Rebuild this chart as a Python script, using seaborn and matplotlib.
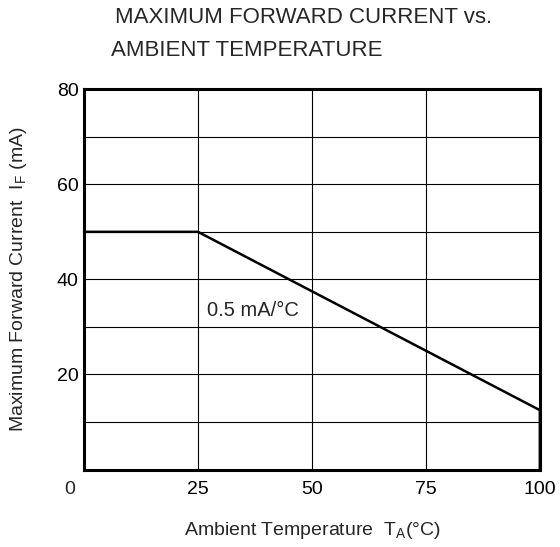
import pandas as pd
import seaborn as sns
import matplotlib.pyplot as plt

# derating curve: flat 50 mA up to 25 °C, then -0.5 mA/°C
temp_c = [0, 25, 100, 100]
current_ma = [50, 50, 12.5, 0]
x_ticks = [0, 25, 50, 75, 100]
y_ticks = [20, 40, 60, 80]
slope_note = "0.5 mA/°C"

sns.set_theme(style="white")
plt.rcParams['font.family'] = ['Liberation Sans', 'DejaVu Sans']
plt.rcParams['mathtext.default'] = 'regular'

df = pd.DataFrame({'temp': temp_c, 'current': current_ma})

fig = plt.figure(figsize=(5.6, 5.47), dpi=100)
ax = fig.add_axes([0.15, 0.1415, 0.814, 0.6955])

# grid every 25 °C and 10 mA
for gx in range(25, 100, 25):
    ax.axvline(gx, color='black', lw=0.8, zorder=1)
for gy in range(10, 80, 10):
    ax.axhline(gy, color='black', lw=0.8, zorder=1)

sns.lineplot(data=df, x='temp', y='current', sort=False, estimator=None,
             color='black', lw=1.8, ax=ax, zorder=3, clip_on=False)

ax.set_xlim(0, 100)
ax.set_ylim(0, 80)
ax.set_xticks(x_ticks)
ax.set_xticklabels([''] + [str(v) for v in x_ticks[1:]])
ax.set_yticks(y_ticks)
ax.set_yticklabels([str(v) for v in y_ticks])
ax.tick_params(axis='both', length=0, labelsize=14, colors='black', pad=8)
ax.tick_params(axis='y', pad=4)
ax.text(-2, -2.5, '0', ha='right', va='top', fontsize=14)

for s in ax.spines.values():
    s.set_color('black')
    s.set_linewidth(2.2)

ax.set_xlabel('Ambient Temperature  T$_{A}$(°C)', fontsize=14, labelpad=16)
ax.set_ylabel('Maximum Forward Current  I$_{F}$ (mA)', fontsize=14, labelpad=20)

ax.text(27, 33.5, slope_note, fontsize=14.5, va='center')

fig.text(0.205, 0.968, 'MAXIMUM FORWARD CURRENT vs.', fontsize=16, va='center')
fig.text(0.198, 0.908, 'AMBIENT TEMPERATURE', fontsize=16, va='center')

fig.savefig('out.png', dpi=100)
